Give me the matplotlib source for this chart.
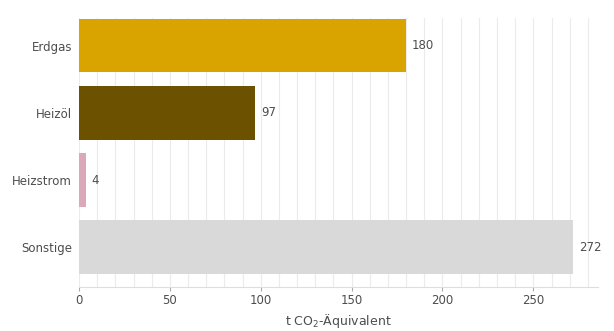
import matplotlib
matplotlib.use("Agg")
import matplotlib.pyplot as plt
from matplotlib.ticker import MultipleLocator

categories = ["Erdgas", "Heizöl", "Heizstrom", "Sonstige"]
values = [180, 97, 4, 272]
colors = ["#DAA400", "#6B5100", "#DBA8BA", "#D9D9D9"]
xticks = [0, 50, 100, 150, 200, 250]

plt.rcParams['font.family'] = ['DejaVu Sans']
fig = plt.figure(figsize=(6.14, 3.31), dpi=100)
ax = fig.add_axes([0.1287, 0.133, 0.974 - 0.1287, 0.9456 - 0.133])

ypos = list(range(len(categories)))
ax.barh(ypos, values, height=0.8, color=colors, zorder=2)
for y, v in zip(ypos, values):
    ax.annotate(str(v), (v, y), xytext=(4, 0), textcoords="offset points",
                va="center", ha="left", fontsize=8.5, color="#4D4D4D")

ax.set_ylim(3.59, -0.41)
ax.set_xlim(0, max(values) * 1.05)
ax.set_yticks(ypos)
ax.set_yticklabels(categories)
ax.set_xticks(xticks)
ax.xaxis.set_minor_locator(MultipleLocator(10))
ax.grid(True, axis="x", which="both", color="#EBEBEB", linewidth=0.8, zorder=0)
ax.set_axisbelow(True)
for s in ["top", "right", "left"]:
    ax.spines[s].set_visible(False)
ax.spines["bottom"].set_color("#DDDDDD")
ax.spines["bottom"].set_linewidth(0.8)
ax.tick_params(axis="x", which="major", length=3, color="#AAAAAA", labelsize=8.5, labelcolor="#4D4D4D", pad=2)
ax.tick_params(axis="x", which="minor", length=0)
ax.tick_params(axis="y", length=0, labelsize=8.5, labelcolor="#4D4D4D", pad=5)
ax.set_xlabel("t CO$_2$-Äquivalent", fontsize=9, color="#4D4D4D", labelpad=4)

fig.savefig("out.png", dpi=100)
